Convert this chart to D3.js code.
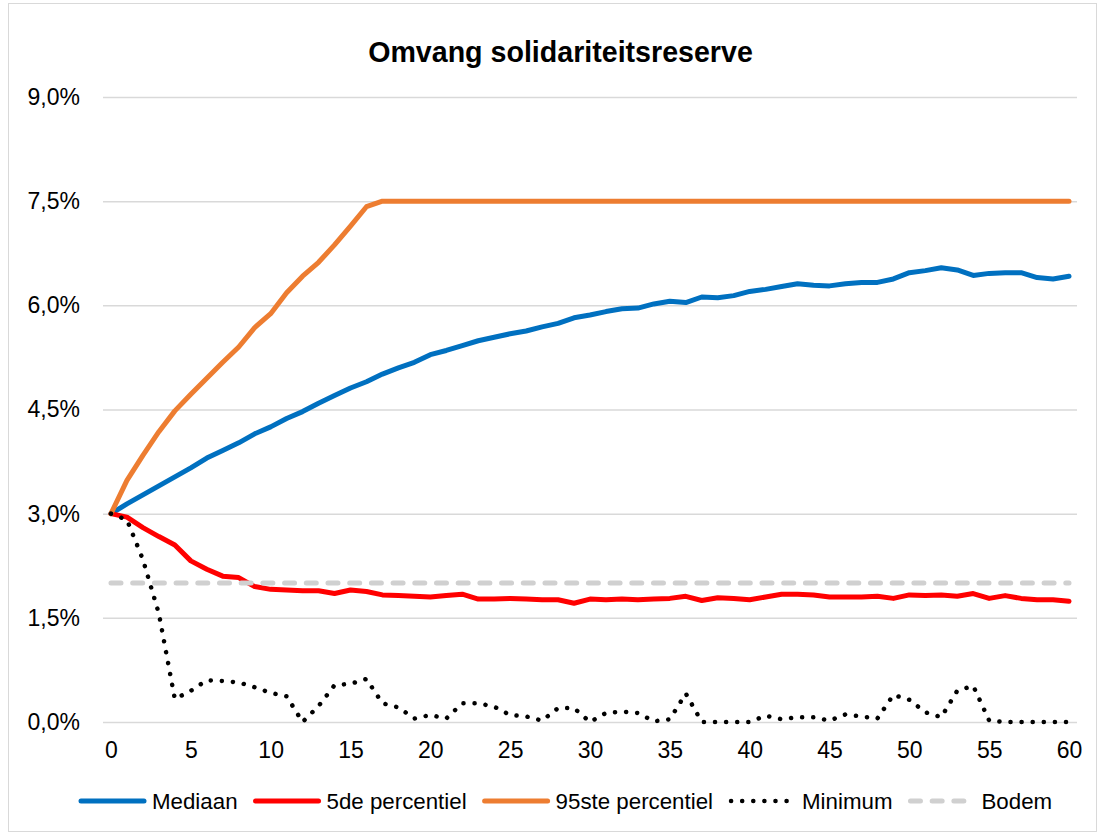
<!DOCTYPE html>
<html>
<head>
<meta charset="utf-8">
<script src="https://cdn.jsdelivr.net/npm/d3@7"></script>
<style>
  body { margin: 0; background: #fff; }
  svg { font-family: "Liberation Sans", Arial, sans-serif; }
</style>
</head>
<body>
<svg id="chart"></svg>
<script>
// Chart data (percentages per year)
const years = d3.range(0, 61);
const xTicks = [0, 5, 10, 15, 20, 25, 30, 35, 40, 45, 50, 55, 60];
const yTicks = [0, 1.5, 3, 4.5, 6, 7.5, 9];

const mediaan = [3.00, 3.14, 3.27, 3.40, 3.53, 3.66, 3.80, 3.91, 4.02, 4.15,
  4.25, 4.37, 4.47, 4.59, 4.70, 4.81, 4.90, 5.01, 5.10, 5.18,
  5.29, 5.35, 5.42, 5.49, 5.54, 5.59, 5.63, 5.69, 5.74, 5.82,
  5.86, 5.91, 5.95, 5.96, 6.02, 6.06, 6.04, 6.12, 6.11, 6.14,
  6.20, 6.23, 6.27, 6.31, 6.29, 6.28, 6.31, 6.33, 6.33, 6.38,
  6.47, 6.50, 6.54, 6.51, 6.43, 6.46, 6.47, 6.47, 6.40, 6.38, 6.42];

const perc5 = [3.00, 2.95, 2.80, 2.67, 2.55, 2.32, 2.20, 2.10, 2.08, 1.95,
  1.91, 1.90, 1.89, 1.89, 1.85, 1.90, 1.88, 1.83, 1.82, 1.81,
  1.80, 1.82, 1.84, 1.77, 1.77, 1.78, 1.77, 1.76, 1.76, 1.71,
  1.77, 1.76, 1.77, 1.76, 1.77, 1.78, 1.81, 1.75, 1.79, 1.78,
  1.76, 1.80, 1.84, 1.84, 1.83, 1.80, 1.80, 1.80, 1.81, 1.78,
  1.83, 1.82, 1.83, 1.81, 1.85, 1.78, 1.82, 1.78, 1.76, 1.76, 1.74];

const perc95 = [3.00, 3.48, 3.84, 4.18, 4.48, 4.72, 4.95, 5.18, 5.40, 5.68,
  5.88, 6.18, 6.42, 6.62, 6.87, 7.14, 7.42, 7.50, 7.50, 7.50,
  7.50, 7.50, 7.50, 7.50, 7.50, 7.50, 7.50, 7.50, 7.50, 7.50,
  7.50, 7.50, 7.50, 7.50, 7.50, 7.50, 7.50, 7.50, 7.50, 7.50,
  7.50, 7.50, 7.50, 7.50, 7.50, 7.50, 7.50, 7.50, 7.50, 7.50,
  7.50, 7.50, 7.50, 7.50, 7.50, 7.50, 7.50, 7.50, 7.50, 7.50, 7.50];

const minimum = [3.00, 2.91, 2.34, 1.56, 0.33, 0.45, 0.60, 0.59, 0.57, 0.50,
  0.42, 0.37, 0.00, 0.23, 0.53, 0.55, 0.62, 0.27, 0.21, 0.05,
  0.10, 0.05, 0.27, 0.27, 0.22, 0.10, 0.08, 0.02, 0.20, 0.20,
  0.00, 0.13, 0.15, 0.13, 0.01, 0.04, 0.41, 0.00, 0.00, 0.00,
  0.00, 0.09, 0.04, 0.07, 0.07, 0.02, 0.11, 0.08, 0.05, 0.39,
  0.32, 0.14, 0.07, 0.45, 0.52, 0.02, 0.00, 0.00, 0.00, 0.00, 0.00];

const bodem = years.map(() => 2.0);

const seriesNames = ["Mediaan", "5de percentiel", "95ste percentiel", "Minimum", "Bodem"];

// Canvas
const width = 1100;
const height = 834;
const svg = d3.select("#chart").attr("width", width).attr("height", height);

// Outer frame
svg.append("rect")
  .attr("x", 8.5).attr("y", 3.5)
  .attr("width", 1088).attr("height", 828)
  .attr("fill", "#fff")
  .attr("stroke", "#d9d9d9")
  .attr("stroke-width", 1);

// Scales
const x = d3.scaleLinear().domain([-0.5, 60.5]).range([103, 1077]);
const y = d3.scaleLinear().domain([0, 9]).range([722, 97]);

const pct = v => d3.format(".1f")(v).replace(".", ",") + "%";

// Y axis with gridlines
const yAxis = svg.append("g")
  .attr("transform", "translate(103,0)")
  .call(d3.axisLeft(y)
    .tickValues(yTicks)
    .tickSize(-(1077 - 103))
    .tickPadding(23)
    .tickFormat(pct));
yAxis.select(".domain").remove();
yAxis.selectAll(".tick line").attr("stroke", "#d9d9d9").attr("stroke-width", 1.5);
yAxis.selectAll(".tick text")
  .attr("font-size", 23)
  .attr("fill", "#000")
  .attr("font-family", "Liberation Sans, Arial, sans-serif");

// X axis
const xAxis = svg.append("g")
  .attr("transform", "translate(0,722)")
  .call(d3.axisBottom(x)
    .tickValues(xTicks)
    .tickSize(0)
    .tickPadding(20)
    .tickFormat(d => d));
xAxis.select(".domain").remove();
xAxis.selectAll(".tick text")
  .attr("font-size", 23)
  .attr("fill", "#000")
  .attr("font-family", "Liberation Sans, Arial, sans-serif");

// Series styles
const styles = [
  { data: mediaan, color: "#0070C0", width: 5, dash: null, cap: "round" },
  { data: perc5, color: "#FF0000", width: 5, dash: null, cap: "round" },
  { data: perc95, color: "#ED7D31", width: 5, dash: null, cap: "round" },
  { data: minimum, color: "#000000", width: 4.5, dash: "0.1 11", cap: "round" },
  { data: bodem, color: "#d0d0d0", width: 5, dash: "10 11.7", cap: "round" }
];

const line = d3.line()
  .x((d, i) => x(years[i]))
  .y(d => y(d));

svg.append("g").selectAll("path")
  .data(styles)
  .enter().append("path")
  .attr("d", d => line(d.data))
  .attr("fill", "none")
  .attr("stroke", d => d.color)
  .attr("stroke-width", d => d.width)
  .attr("stroke-linejoin", "round")
  .attr("stroke-linecap", d => d.cap)
  .attr("stroke-dasharray", d => d.dash);

// Title
svg.append("text")
  .attr("x", 560.5)
  .attr("y", 62)
  .attr("text-anchor", "middle")
  .attr("font-size", 28.6)
  .attr("font-weight", "bold")
  .text("Omvang solidariteitsreserve");

// Legend
const legend = svg.append("g").attr("transform", "translate(79,801)");
let lx = 0;
styles.forEach((s, i) => {
  const g = legend.append("g").attr("transform", `translate(${lx},0)`);
  g.append("line")
    .attr("x1", 2).attr("x2", 65)
    .attr("y1", 0).attr("y2", 0)
    .attr("stroke", s.color)
    .attr("stroke-width", s.width)
    .attr("stroke-linecap", s.cap)
    .attr("stroke-dasharray", s.dash);
  const t = g.append("text")
    .attr("x", 73)
    .attr("y", 0)
    .attr("dy", "0.36em")
    .attr("font-size", 22.3)
    .text(seriesNames[i]);
  lx += 73 + t.node().getComputedTextLength() + 16;
});
</script>
</body>
</html>
